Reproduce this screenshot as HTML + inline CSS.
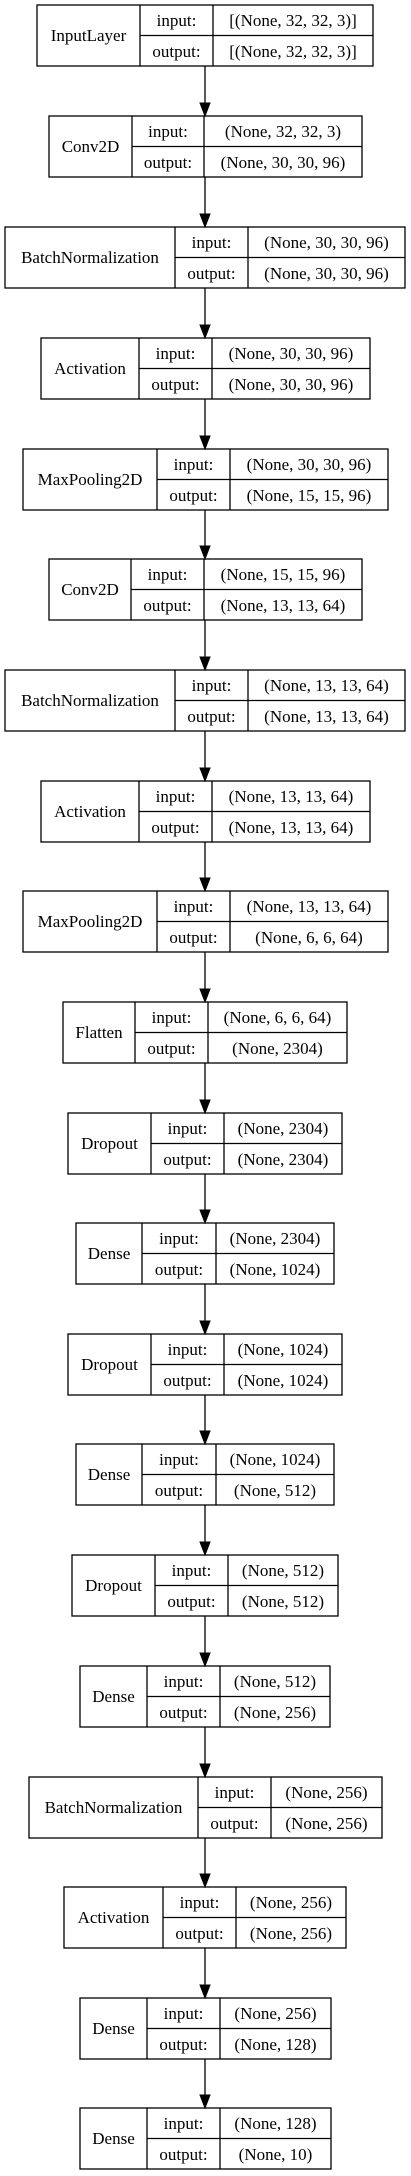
<!DOCTYPE html>
<html><head><meta charset="utf-8"><style>
html,body{margin:0;padding:0;background:#fff;width:411px;height:2176px;overflow:hidden}
svg text{font-family:"Liberation Serif",serif;font-size:17px;fill:#000;text-anchor:middle}
svg rect,svg line{stroke:#000;stroke-width:1.3;fill:none}
svg polygon{fill:#000;stroke:#000}
</style></head><body>
<svg width="411" height="2176" viewBox="0 0 411 2176" xmlns="http://www.w3.org/2000/svg">
<rect x="0" y="0" width="411" height="2176" style="fill:#fff;stroke:none"/>

<g><rect x="37" y="5" width="336" height="61"/><line x1="140" y1="5" x2="140" y2="66"/><line x1="213" y1="5" x2="213" y2="66"/><line x1="140" y1="35.5" x2="373" y2="35.5"/>
<text x="88.5" y="41">InputLayer</text><text x="176.5" y="26">input:</text><text x="176.5" y="57">output:</text><text x="293" y="26">[(None, 32, 32, 3)]</text><text x="293" y="57">[(None, 32, 32, 3)]</text></g>

<g><rect x="49" y="116" width="313" height="61"/><line x1="132" y1="116" x2="132" y2="177"/><line x1="204" y1="116" x2="204" y2="177"/><line x1="132" y1="146.5" x2="362" y2="146.5"/>
<text x="90.5" y="152">Conv2D</text><text x="168" y="137">input:</text><text x="168" y="168">output:</text><text x="283" y="137">(None, 32, 32, 3)</text><text x="283" y="168">(None, 30, 30, 96)</text></g>

<g><rect x="5" y="227" width="400" height="61"/><line x1="175" y1="227" x2="175" y2="288"/><line x1="248" y1="227" x2="248" y2="288"/><line x1="175" y1="257.5" x2="405" y2="257.5"/>
<text x="90" y="263">BatchNormalization</text><text x="211.5" y="248">input:</text><text x="211.5" y="279">output:</text><text x="326.5" y="248">(None, 30, 30, 96)</text><text x="326.5" y="279">(None, 30, 30, 96)</text></g>

<g><rect x="41" y="338" width="329" height="61"/><line x1="139" y1="338" x2="139" y2="399"/><line x1="212" y1="338" x2="212" y2="399"/><line x1="139" y1="368.5" x2="370" y2="368.5"/>
<text x="90" y="374">Activation</text><text x="175.5" y="359">input:</text><text x="175.5" y="390">output:</text><text x="291" y="359">(None, 30, 30, 96)</text><text x="291" y="390">(None, 30, 30, 96)</text></g>

<g><rect x="23" y="449" width="365" height="61"/><line x1="157" y1="449" x2="157" y2="510"/><line x1="230" y1="449" x2="230" y2="510"/><line x1="157" y1="479.5" x2="388" y2="479.5"/>
<text x="90" y="485">MaxPooling2D</text><text x="193.5" y="470">input:</text><text x="193.5" y="501">output:</text><text x="309" y="470">(None, 30, 30, 96)</text><text x="309" y="501">(None, 15, 15, 96)</text></g>

<g><rect x="49" y="559" width="313" height="61"/><line x1="131" y1="559" x2="131" y2="620"/><line x1="204" y1="559" x2="204" y2="620"/><line x1="131" y1="589.5" x2="362" y2="589.5"/>
<text x="90" y="595">Conv2D</text><text x="167.5" y="580">input:</text><text x="167.5" y="611">output:</text><text x="283" y="580">(None, 15, 15, 96)</text><text x="283" y="611">(None, 13, 13, 64)</text></g>

<g><rect x="5" y="670" width="400" height="61"/><line x1="175" y1="670" x2="175" y2="731"/><line x1="248" y1="670" x2="248" y2="731"/><line x1="175" y1="700.5" x2="405" y2="700.5"/>
<text x="90" y="706">BatchNormalization</text><text x="211.5" y="691">input:</text><text x="211.5" y="722">output:</text><text x="326.5" y="691">(None, 13, 13, 64)</text><text x="326.5" y="722">(None, 13, 13, 64)</text></g>

<g><rect x="41" y="781" width="329" height="61"/><line x1="139" y1="781" x2="139" y2="842"/><line x1="212" y1="781" x2="212" y2="842"/><line x1="139" y1="811.5" x2="370" y2="811.5"/>
<text x="90" y="817">Activation</text><text x="175.5" y="802">input:</text><text x="175.5" y="833">output:</text><text x="291" y="802">(None, 13, 13, 64)</text><text x="291" y="833">(None, 13, 13, 64)</text></g>

<g><rect x="23" y="891" width="365" height="61"/><line x1="157" y1="891" x2="157" y2="952"/><line x1="230" y1="891" x2="230" y2="952"/><line x1="157" y1="921.5" x2="388" y2="921.5"/>
<text x="90" y="927">MaxPooling2D</text><text x="193.5" y="912">input:</text><text x="193.5" y="943">output:</text><text x="309" y="912">(None, 13, 13, 64)</text><text x="309" y="943">(None, 6, 6, 64)</text></g>

<g><rect x="63" y="1002" width="284" height="61"/><line x1="135" y1="1002" x2="135" y2="1063"/><line x1="208" y1="1002" x2="208" y2="1063"/><line x1="135" y1="1032.5" x2="347" y2="1032.5"/>
<text x="99" y="1038">Flatten</text><text x="171.5" y="1023">input:</text><text x="171.5" y="1054">output:</text><text x="277.5" y="1023">(None, 6, 6, 64)</text><text x="277.5" y="1054">(None, 2304)</text></g>

<g><rect x="68" y="1113" width="274" height="61"/><line x1="151" y1="1113" x2="151" y2="1174"/><line x1="224" y1="1113" x2="224" y2="1174"/><line x1="151" y1="1143.5" x2="342" y2="1143.5"/>
<text x="109.5" y="1149">Dropout</text><text x="187.5" y="1134">input:</text><text x="187.5" y="1165">output:</text><text x="283" y="1134">(None, 2304)</text><text x="283" y="1165">(None, 2304)</text></g>

<g><rect x="76" y="1223" width="258" height="61"/><line x1="142" y1="1223" x2="142" y2="1284"/><line x1="216" y1="1223" x2="216" y2="1284"/><line x1="142" y1="1253.5" x2="334" y2="1253.5"/>
<text x="109" y="1259">Dense</text><text x="179" y="1244">input:</text><text x="179" y="1275">output:</text><text x="275" y="1244">(None, 2304)</text><text x="275" y="1275">(None, 1024)</text></g>

<g><rect x="68" y="1334" width="274" height="61"/><line x1="151" y1="1334" x2="151" y2="1395"/><line x1="224" y1="1334" x2="224" y2="1395"/><line x1="151" y1="1364.5" x2="342" y2="1364.5"/>
<text x="109.5" y="1370">Dropout</text><text x="187.5" y="1355">input:</text><text x="187.5" y="1386">output:</text><text x="283" y="1355">(None, 1024)</text><text x="283" y="1386">(None, 1024)</text></g>

<g><rect x="76" y="1444" width="258" height="61"/><line x1="142" y1="1444" x2="142" y2="1505"/><line x1="216" y1="1444" x2="216" y2="1505"/><line x1="142" y1="1474.5" x2="334" y2="1474.5"/>
<text x="109" y="1480">Dense</text><text x="179" y="1465">input:</text><text x="179" y="1496">output:</text><text x="275" y="1465">(None, 1024)</text><text x="275" y="1496">(None, 512)</text></g>

<g><rect x="72" y="1555" width="266" height="61"/><line x1="155" y1="1555" x2="155" y2="1616"/><line x1="228" y1="1555" x2="228" y2="1616"/><line x1="155" y1="1585.5" x2="338" y2="1585.5"/>
<text x="113.5" y="1591">Dropout</text><text x="191.5" y="1576">input:</text><text x="191.5" y="1607">output:</text><text x="283" y="1576">(None, 512)</text><text x="283" y="1607">(None, 512)</text></g>

<g><rect x="80" y="1666" width="250" height="61"/><line x1="147" y1="1666" x2="147" y2="1727"/><line x1="220" y1="1666" x2="220" y2="1727"/><line x1="147" y1="1696.5" x2="330" y2="1696.5"/>
<text x="113.5" y="1702">Dense</text><text x="183.5" y="1687">input:</text><text x="183.5" y="1718">output:</text><text x="275" y="1687">(None, 512)</text><text x="275" y="1718">(None, 256)</text></g>

<g><rect x="29" y="1777" width="353" height="61"/><line x1="198" y1="1777" x2="198" y2="1838"/><line x1="271" y1="1777" x2="271" y2="1838"/><line x1="198" y1="1807.5" x2="382" y2="1807.5"/>
<text x="113.5" y="1813">BatchNormalization</text><text x="234.5" y="1798">input:</text><text x="234.5" y="1829">output:</text><text x="326.5" y="1798">(None, 256)</text><text x="326.5" y="1829">(None, 256)</text></g>

<g><rect x="64" y="1887" width="282" height="61"/><line x1="163" y1="1887" x2="163" y2="1948"/><line x1="236" y1="1887" x2="236" y2="1948"/><line x1="163" y1="1917.5" x2="346" y2="1917.5"/>
<text x="113.5" y="1923">Activation</text><text x="199.5" y="1908">input:</text><text x="199.5" y="1939">output:</text><text x="291" y="1908">(None, 256)</text><text x="291" y="1939">(None, 256)</text></g>

<g><rect x="80" y="1998" width="251" height="61"/><line x1="147" y1="1998" x2="147" y2="2059"/><line x1="220" y1="1998" x2="220" y2="2059"/><line x1="147" y1="2028.5" x2="331" y2="2028.5"/>
<text x="113.5" y="2034">Dense</text><text x="183.5" y="2019">input:</text><text x="183.5" y="2050">output:</text><text x="275.5" y="2019">(None, 256)</text><text x="275.5" y="2050">(None, 128)</text></g>

<g><rect x="80" y="2108" width="251" height="61"/><line x1="147" y1="2108" x2="147" y2="2169"/><line x1="220" y1="2108" x2="220" y2="2169"/><line x1="147" y1="2138.5" x2="331" y2="2138.5"/>
<text x="113.5" y="2144">Dense</text><text x="183.5" y="2129">input:</text><text x="183.5" y="2160">output:</text><text x="275.5" y="2129">(None, 128)</text><text x="275.5" y="2160">(None, 10)</text></g>

<g>
<line x1="205" y1="66" x2="205" y2="104"/><polygon points="200,103 210,103 205,116"/>
<line x1="205" y1="177" x2="205" y2="215"/><polygon points="200,214 210,214 205,227"/>
<line x1="205" y1="288" x2="205" y2="326"/><polygon points="200,325 210,325 205,338"/>
<line x1="205" y1="399" x2="205" y2="437"/><polygon points="200,436 210,436 205,449"/>
<line x1="205" y1="510" x2="205" y2="547"/><polygon points="200,546 210,546 205,559"/>
<line x1="205" y1="620" x2="205" y2="658"/><polygon points="200,657 210,657 205,670"/>
<line x1="205" y1="731" x2="205" y2="769"/><polygon points="200,768 210,768 205,781"/>
<line x1="205" y1="842" x2="205" y2="879"/><polygon points="200,878 210,878 205,891"/>
<line x1="205" y1="952" x2="205" y2="990"/><polygon points="200,989 210,989 205,1002"/>
<line x1="205" y1="1063" x2="205" y2="1101"/><polygon points="200,1100 210,1100 205,1113"/>
<line x1="205" y1="1174" x2="205" y2="1211"/><polygon points="200,1210 210,1210 205,1223"/>
<line x1="205" y1="1284" x2="205" y2="1322"/><polygon points="200,1321 210,1321 205,1334"/>
<line x1="205" y1="1395" x2="205" y2="1432"/><polygon points="200,1431 210,1431 205,1444"/>
<line x1="205" y1="1505" x2="205" y2="1543"/><polygon points="200,1542 210,1542 205,1555"/>
<line x1="205" y1="1616" x2="205" y2="1654"/><polygon points="200,1653 210,1653 205,1666"/>
<line x1="205" y1="1727" x2="205" y2="1765"/><polygon points="200,1764 210,1764 205,1777"/>
<line x1="205" y1="1838" x2="205" y2="1875"/><polygon points="200,1874 210,1874 205,1887"/>
<line x1="205" y1="1948" x2="205" y2="1986"/><polygon points="200,1985 210,1985 205,1998"/>
<line x1="205" y1="2059" x2="205" y2="2096"/><polygon points="200,2095 210,2095 205,2108"/>
</g>
</svg>
</body></html>
